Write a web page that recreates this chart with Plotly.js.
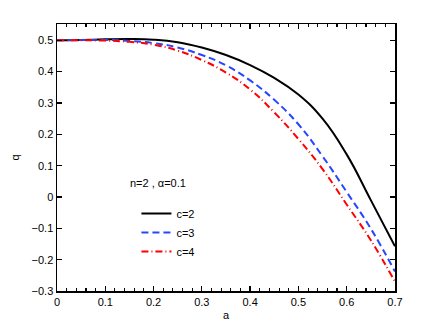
<!DOCTYPE html>
<html>
<head>
<meta charset="utf-8">
<script src="https://cdn.plot.ly/plotly-3.0.1.min.js"></script>
<style>
  html, body { margin: 0; padding: 0; background: #fff; }
  #chart { width: 436px; height: 328px; }
</style>
</head>
<body>
<div id="chart"></div>
<script>
// values
let aVals = [0, 0.05, 0.1, 0.15, 0.2, 0.25, 0.3, 0.35, 0.4, 0.45, 0.5, 0.55, 0.6, 0.65, 0.7];
let qC2 = [0.5, 0.501, 0.503, 0.504, 0.502, 0.494, 0.477, 0.453, 0.421, 0.38, 0.327, 0.25, 0.136, -0.01, -0.157];
let qC3 = [0.5, 0.501, 0.501, 0.498, 0.491, 0.477, 0.453, 0.42, 0.372, 0.31, 0.232, 0.13, 0.016, -0.101, -0.238];
let qC4 = [0.5, 0.5, 0.499, 0.495, 0.486, 0.467, 0.437, 0.397, 0.343, 0.27, 0.185, 0.089, -0.024, -0.138, -0.27];
let names = ["c=2", "c=3", "c=4"];

let font = {family: "Liberation Sans, Arial, sans-serif", size: 11, color: "#000"};

let data = [
	{x: aVals, y: qC2, name: names[0], mode: "lines", line: {color: "#000", width: 2, shape: "spline", smoothing: 1.3}},
	{x: aVals, y: qC3, name: names[1], mode: "lines", line: {color: "rgb(40,70,255)", width: 2, dash: "7px,4px", shape: "spline", smoothing: 1.3}},
	{x: aVals, y: qC4, name: names[2], mode: "lines", line: {color: "rgb(255,0,0)", width: 2, dash: "7px,3px,1px,3px", shape: "spline", smoothing: 1.3}}
];

let layout = {
	width: 436, height: 328,
	margin: {l: 57, r: 41, t: 24, b: 37},
	paper_bgcolor: "#fff", plot_bgcolor: "#fff",
	font: font,
	showlegend: true,
	legend: {x: 0.235, y: 0.345, xanchor: "left", yanchor: "top", bgcolor: "rgba(0,0,0,0)",
		font: font, tracegroupgap: 0, itemwidth: 30},
	xaxis: {
		range: [0, 0.7001], tick0: 0, dtick: 0.1, ticks: "inside", ticklen: 5, tickwidth: 1.3, tickcolor: "#000",
		showline: true, linecolor: "#000", linewidth: 1.5, mirror: "ticks", showgrid: false, zeroline: false,
		minor: {tick0: 0, dtick: 0.02, ticks: "inside", ticklen: 3, tickwidth: 1.1, tickcolor: "#000", showgrid: false},
		title: {text: "a", font: font, standoff: 4}
	},
	yaxis: {
		range: [-0.3, 0.552], tick0: 0, dtick: 0.1, ticks: "inside", ticklen: 5, tickwidth: 1.3, tickcolor: "#000",
		showline: true, linecolor: "#000", linewidth: 1.5, mirror: "ticks", showgrid: false, zeroline: false,
		title: {text: "q", font: font, standoff: 9}
	},
	annotations: [{
		text: "n=2 , \u03b1=0.1", xref: "paper", yref: "paper", x: 0.3, y: 0.405,
		xanchor: "center", yanchor: "middle", showarrow: false, font: font
	}]
};

Plotly.newPlot("chart", data, layout, {displayModeBar: false, staticPlot: true});
</script>
</body>
</html>
